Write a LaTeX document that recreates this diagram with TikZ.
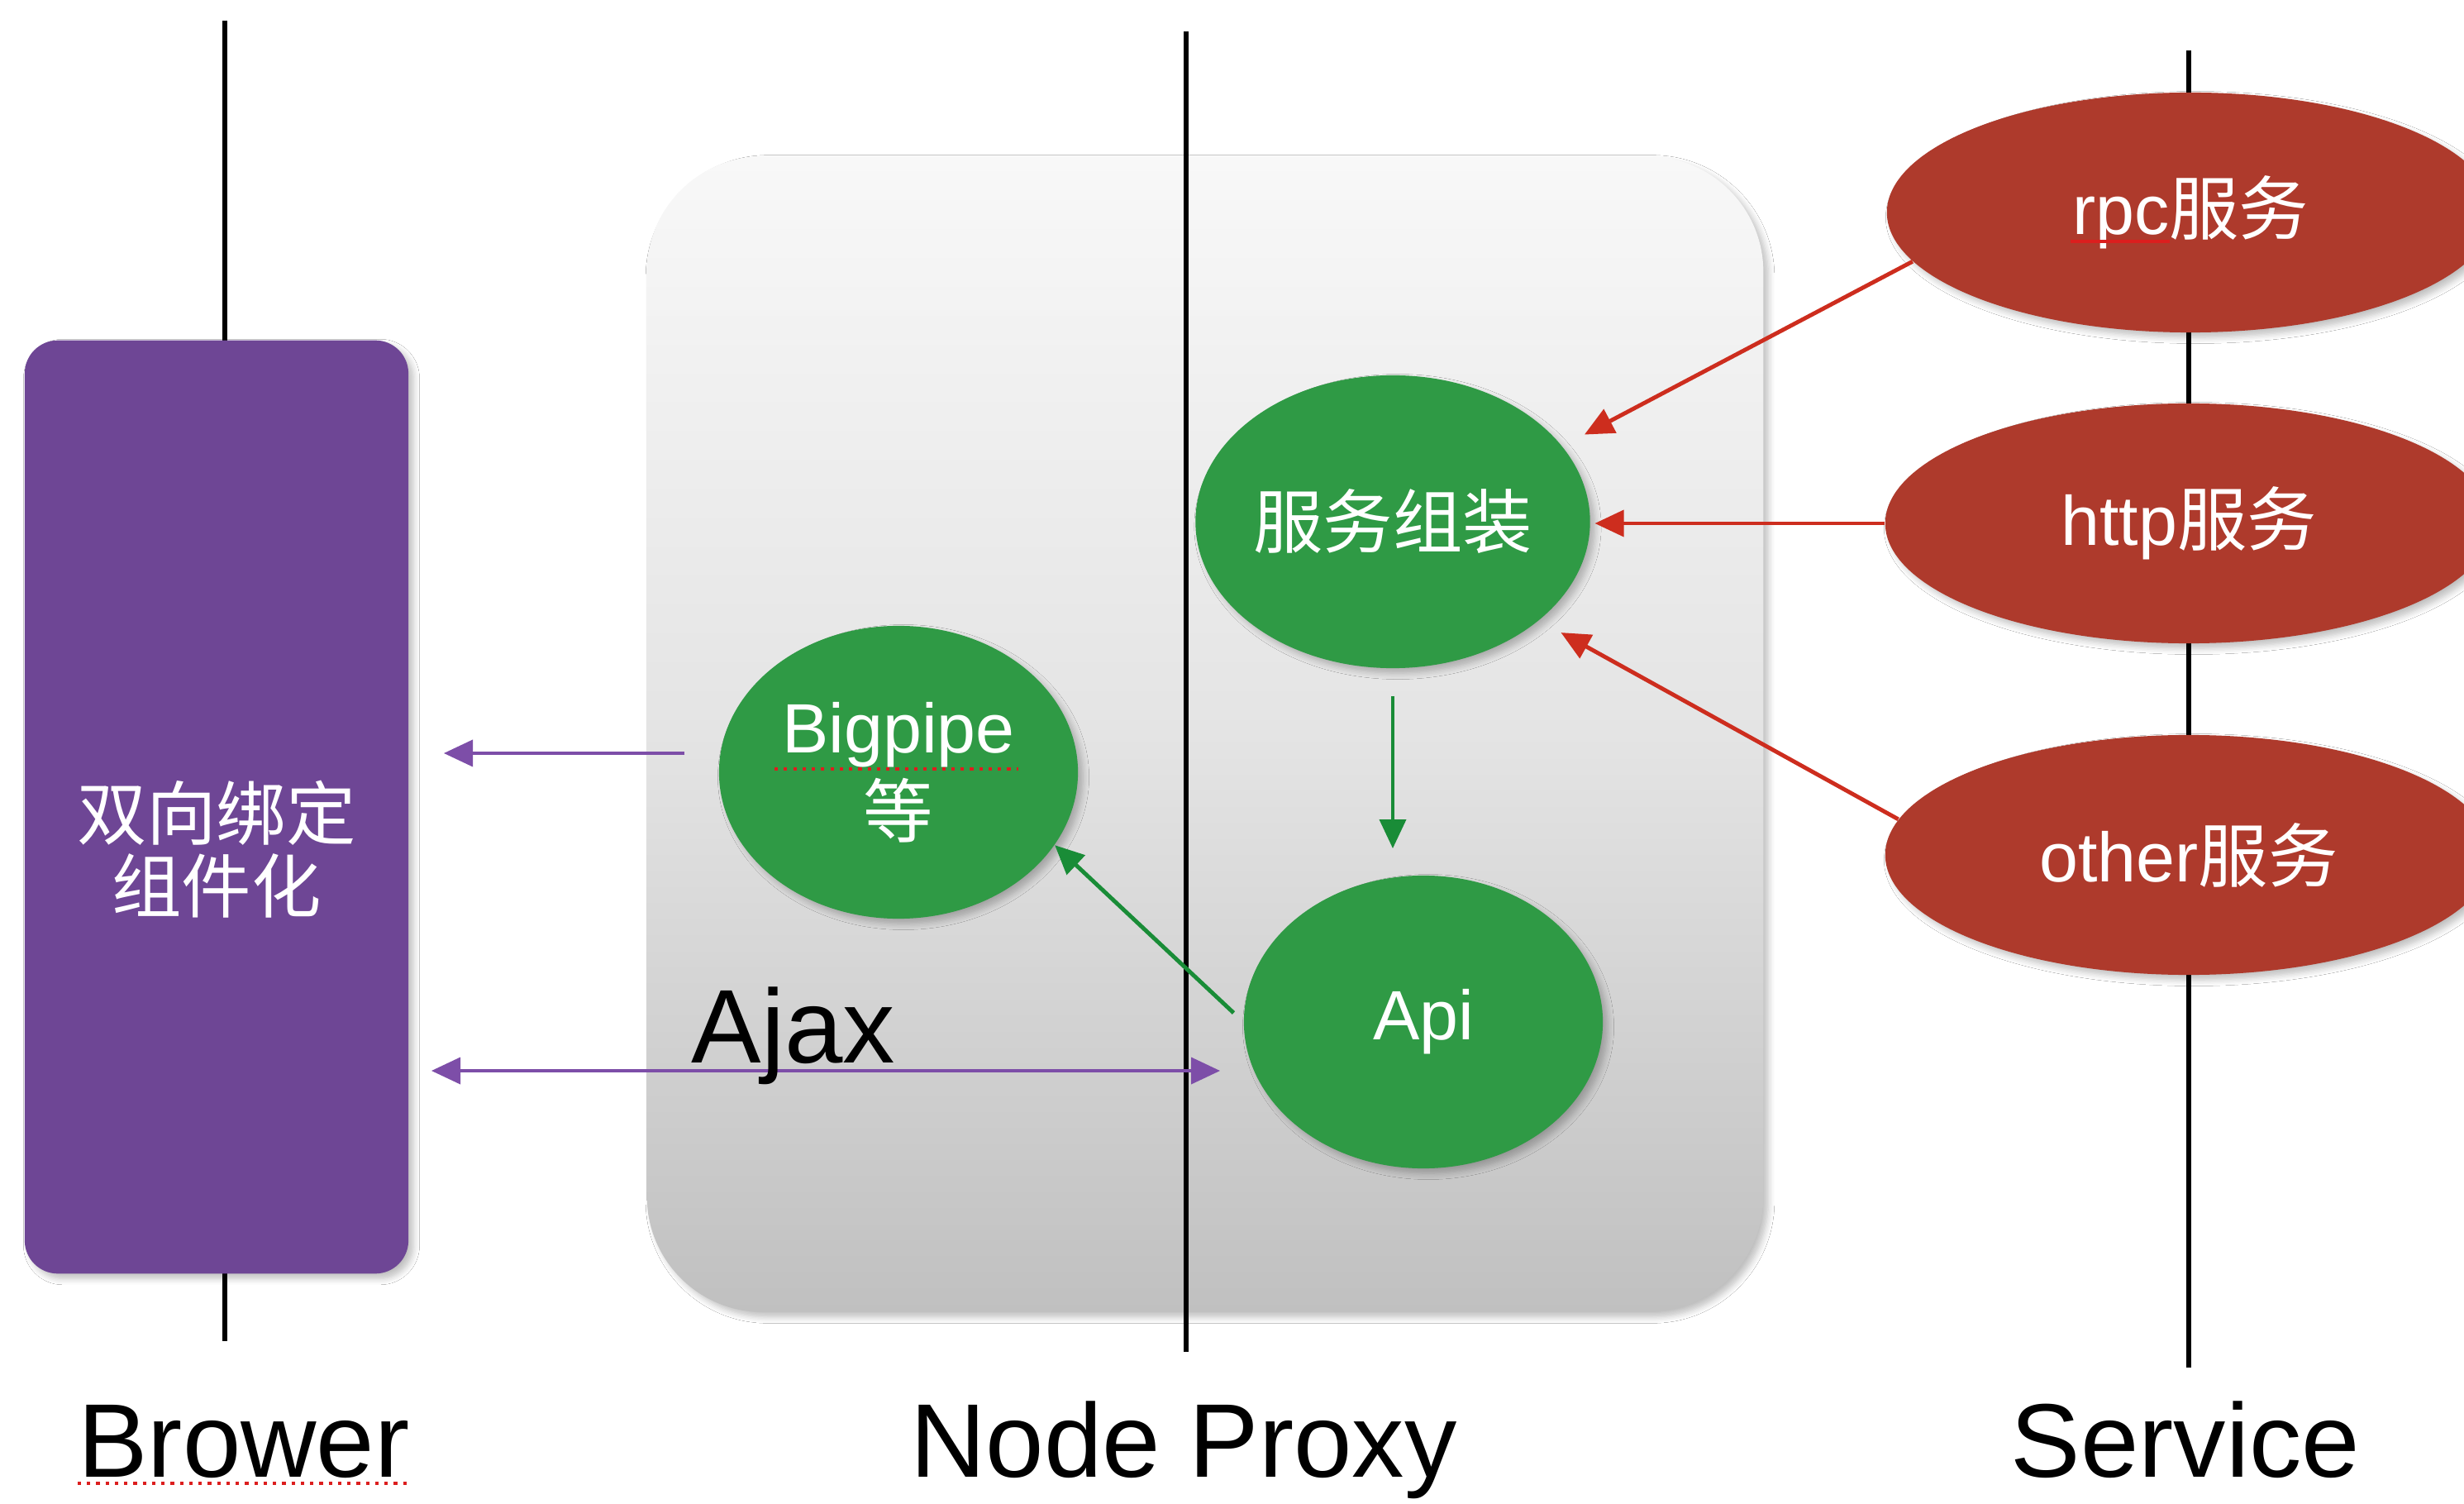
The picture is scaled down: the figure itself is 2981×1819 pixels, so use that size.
\documentclass[tikz,border=0pt]{standalone}
\usepackage{fontspec}
\setmainfont{Liberation Sans}
\newfontfamily\cjk{Noto Sans CJK SC}
\usetikzlibrary{shapes.geometric,arrows.meta,shadows.blur}
\definecolor{nodegreen}{RGB}{47,154,69}
\definecolor{svcred}{RGB}{174,58,44}
\definecolor{brpurple}{RGB}{110,70,149}
\definecolor{arpurple}{RGB}{125,78,168}
\definecolor{redarr}{RGB}{205,45,30}
\definecolor{grnarr}{RGB}{25,140,55}
\definecolor{spell}{RGB}{220,30,30}
\begin{document}
\begin{tikzpicture}[x=0.01cm,y=-0.01cm,
  vline/.style={line width=1.7pt,black},
  softshadow/.style={blur shadow={shadow blur steps=6,shadow xshift=0.6mm,shadow yshift=-0.6mm,shadow opacity=25}},
  gnode/.style={ellipse,fill=nodegreen,minimum width=4.34cm,minimum height=3.54cm,
    text=white,align=center,inner sep=0pt,font=\fontsize{24}{26}\selectfont,softshadow},
  rnode/.style={ellipse,fill=svcred,minimum width=7.34cm,minimum height=2.9cm,
    text=white,align=center,inner sep=0pt,font=\fontsize{24}{26}\selectfont,softshadow},
  tip/.style={Triangle[length=10pt,width=9pt]},
  redarrow/.style={line width=1.4pt,redarr,-{Triangle[length=10pt,width=9pt]}},
  grnarrow/.style={line width=1.4pt,grnarr,-{Triangle[length=10pt,width=9pt]}},
  purarrow/.style={line width=1.4pt,arpurple,-{Triangle[length=10pt,width=9pt]}},
  purarrow2/.style={line width=1.4pt,arpurple,{Triangle[length=10pt,width=9pt]}-{Triangle[length=10pt,width=9pt]}},
  biglabel/.style={font=\fontsize{36}{40}\selectfont,text=black,inner sep=0pt},
  spellline/.style={spell,line width=1.2pt,dotted}
]
\clip (0,0) rectangle (2981,1819);
\fill[white] (0,0) rectangle (2981,1819);

% Node Proxy container
\node[rectangle,rounded corners=1.4cm,minimum width=13.5cm,minimum height=13.97cm,
  top color={rgb,255:red,248;green,248;blue,248},bottom color={rgb,255:red,192;green,192;blue,192},
  middle color={rgb,255:red,228;green,228;blue,228},softshadow] (proxy) at (1458,888) {};

% lifelines
\coordinate (bt) at (272,25);
\coordinate (bb) at (272,1622);
\coordinate (pt) at (1435,38);
\coordinate (pb) at (1435,1635);
\coordinate (st) at (2648,61);
\coordinate (sb) at (2648,1654);
\draw[vline] (bt) -- (bb);
\draw[vline] (pt) -- (pb);
\draw[vline] (st) -- (sb);

% Browser box
\node[rectangle,rounded corners=0.4cm,fill=brpurple,minimum width=4.64cm,minimum height=11.28cm,softshadow] (brow) at (262,976) {};
\node[text=white,align=center,inner sep=0pt,font=\cjk\fontsize{24}{25}\selectfont] (brtext) at (262,1027) {双向绑定\\组件化};

% service ellipses
\node[rnode] (rpc) at (2650,257) {rpc{\cjk 服务}};
\node[rnode] (http) at (2648,633) {http{\cjk 服务}};
\node[rnode] (other) at (2648,1034) {other{\cjk 服务}};

% green nodes
\node[gnode] (sz) at (1685,631) {\cjk 服务组装};
\node[gnode] (bp) at (1087,934) {Bigpipe\\[3pt]{\cjk 等}};
\node[gnode] (api) at (1722,1236) {Api};

% red arrows
\draw[redarrow,shorten >=0.3cm] (rpc.190) -- (sz.24);
\draw[redarrow,shorten >=0.05cm] (http.west) -- (http.west -| sz.east);
\draw[redarrow,shorten >=0.3cm] (other.173) -- (sz.-34);

% green arrows
\draw[grnarrow,shorten <=0.33cm,shorten >=0.32cm] (sz.south) -- (sz.south |- api.north);
\draw[grnarrow,shorten <=0.16cm] (api.west) -- (bp.-25);

% purple arrows
\coordinate (bps) at ([xshift=-0.41cm,yshift=0.23cm]bp.west);
\draw[purarrow,shorten >=0.42cm] (bps) -- (bps -| brow.east);
\coordinate (ajaxe) at ([xshift=-0.28cm,yshift=-0.59cm]api.west);
\draw[purarrow2,shorten <=0.27cm] (ajaxe -| brow.east) -- (ajaxe);

% labels
\node[biglabel,anchor=base west] (ajax) at (836,1285) {Ajax};
\node[biglabel,anchor=base] (lbrow) at (295,1786) {Brower};
\node[biglabel,anchor=base] (lproxy) at (1432,1786) {Node Proxy};
\node[biglabel,anchor=base] (lserv) at (2644,1786) {Service};

% spell-check marks
\draw[spellline] ([yshift=-0.08cm]lbrow.base west) -- ([yshift=-0.08cm]lbrow.base east);
\draw[spellline] (937,930) -- (1232,930);
\draw[spell,line width=1.3pt] (2505,292) -- (2625,292);
\end{tikzpicture}
\end{document}
